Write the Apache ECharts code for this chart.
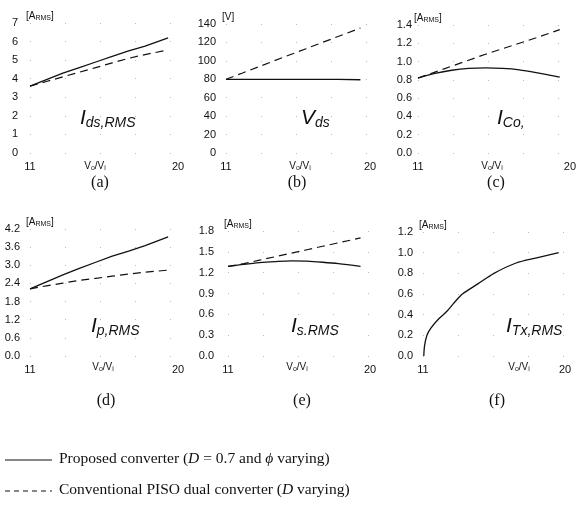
<!DOCTYPE html>
<html><head><meta charset="utf-8">
<script src="https://cdn.jsdelivr.net/npm/echarts@6/dist/echarts.min.js"></script>
<style>html,body{margin:0;padding:0;background:#fff}#c{width:579px;height:507px}</style>
</head><body><div id="c"></div>
<script>
// ---- data ----
const xCommon = [11, 12, 13, 14, 15, 16, 17, 18, 19.4];
const aProposed = [3.6, 3.95, 4.3, 4.6, 4.9, 5.2, 5.5, 5.75, 6.2];
const aConventional = [3.6, 3.85, 4.1, 4.35, 4.6, 4.85, 5.1, 5.3, 5.55];
const bProposed = [80, 80, 80, 80, 80, 80, 80, 80, 79.5];
const bConventional = [80, 86.6, 93.3, 100, 106.6, 113.2, 119.8, 126.4, 135.6];
const cProposed = [0.82, 0.87, 0.905, 0.925, 0.93, 0.925, 0.91, 0.88, 0.83];
const cConventional = [0.82, 0.885, 0.95, 1.015, 1.08, 1.14, 1.2, 1.26, 1.35];
const dProposed = [2.22, 2.45, 2.68, 2.9, 3.1, 3.3, 3.47, 3.65, 3.94];
const dConventional = [2.22, 2.32, 2.41, 2.5, 2.57, 2.64, 2.71, 2.77, 2.84];
const eProposed = [1.29, 1.32, 1.345, 1.36, 1.37, 1.365, 1.35, 1.33, 1.29];
const eConventional = [1.29, 1.33, 1.38, 1.43, 1.48, 1.53, 1.58, 1.63, 1.70];
const fX = [11.05, 11.1, 11.25, 11.5, 12.0, 12.5, 13.0, 13.5, 14.5, 15.5, 16.9, 18.2, 19.6];
const fProposed = [0, 0.1, 0.2, 0.27, 0.36, 0.43, 0.52, 0.6, 0.7, 0.8, 0.9, 0.95, 1.0];

const xTicks = [11, 20];
const yMax = [7, 140, 1.4, 4.2, 1.8, 1.2];
const yStep = [1, 20, 0.2, 0.6, 0.3, 0.2];
const yDecimals = [0, 0, 1, 1, 1, 1];
const units = ['A', 'V', 'A', 'A', 'A', 'A'];
const captions = ['(a)', '(b)', '(c)', '(d)', '(e)', '(f)'];
const bigLabels = [['I','ds,RMS'], ['V','ds'], ['I','Co,'], ['I','p,RMS'], ['I','s.RMS'], ['I','Tx,RMS']];
const legendTexts = ['Proposed converter', 'Conventional PISO dual converter'];

// ---- layout ----
const grids = [
  {left: 30, width: 148, top: 23, height: 130},
  {left: 226, width: 144, top: 24, height: 129},
  {left: 418, width: 152, top: 25, height: 128},
  {left: 30, width: 148, top: 229, height: 127},
  {left: 228, width: 142, top: 231, height: 125},
  {left: 423, width: 142, top: 232, height: 124}
];
const labelMargin = [12, 10, 6, 10, 14, 10];
const xNamePos = [[95, 166], [300, 166], [492, 166], [103, 367], [297, 367], [519, 367]];

const FONT = 'Liberation Sans, Arial, sans-serif';
const SERIF = 'Liberation Serif, Times New Roman, serif';

const option = {
  animation: false,
  backgroundColor: '#fff',
  grid: grids.map(g => Object.assign({containLabel: false}, g)),
  xAxis: grids.map((g, i) => ({
    gridIndex: i, type: 'value', min: xTicks[0], max: xTicks[1], interval: xTicks[1] - xTicks[0],
    axisLine: {show: false}, axisTick: {show: false}, splitLine: {show: false},
    axisLabel: {fontFamily: FONT, fontSize: 11, color: '#111', margin: 8}
  })),
  yAxis: grids.map((g, i) => ({
    gridIndex: i, type: 'value', min: 0, max: yMax[i], interval: yStep[i],
    axisLine: {show: false}, axisTick: {show: false},
    splitLine: {show: true, lineStyle: {color: '#bbb', type: [1, 34], width: 1}},
    axisLabel: {fontFamily: FONT, fontSize: 11, color: '#111', margin: labelMargin[i],
      formatter: v => v.toFixed(yDecimals[i])}
  })),
  series: [],
  graphic: []
};

const lineStyleSolid = {color: '#111', width: 1.3, type: 'solid'};
const lineStyleDash = {color: '#111', width: 1.2, type: [8, 5]};
function addSeries(idx, xs, ys, style, smooth) {
  option.series.push({
    type: 'line', xAxisIndex: idx, yAxisIndex: idx, showSymbol: false, symbol: 'none',
    smooth: smooth ? 0.3 : false,
    data: xs.map((x, k) => [x, ys[k]]), lineStyle: style
  });
}
addSeries(0, xCommon, aProposed, lineStyleSolid, false);
addSeries(0, xCommon, aConventional, lineStyleDash, false);
addSeries(1, xCommon, bProposed, lineStyleSolid, false);
addSeries(1, xCommon, bConventional, lineStyleDash, false);
addSeries(2, xCommon, cProposed, lineStyleSolid, true);
addSeries(2, xCommon, cConventional, lineStyleDash, false);
addSeries(3, xCommon, dProposed, lineStyleSolid, false);
addSeries(3, xCommon, dConventional, lineStyleDash, false);
addSeries(4, xCommon, eProposed, lineStyleSolid, true);
addSeries(4, xCommon, eConventional, lineStyleDash, false);
addSeries(5, fX, fProposed, lineStyleSolid, true);

// x axis names
xNamePos.forEach(p => {
  option.graphic.push({
    type: 'text', x: p[0], y: p[1],
    style: {text: '{n|V}{s|o}{n|/V}{s|i}', align: 'center', verticalAlign: 'middle', fill: '#111',
      rich: {
        n: {fontFamily: FONT, fontSize: 10, fill: '#111'},
        s: {fontFamily: FONT, fontSize: 7, fill: '#111', padding: [5, 0, 0, 0]}
      }}
  });
});

// unit labels above y axes
grids.forEach((g, i) => {
  const txt = units[i] === 'V' ? '[V]' : '[A{s|RMS}]';
  option.graphic.push({
    type: 'text', left: g.left - 4, top: g.top - 12,
    style: {text: txt, fontFamily: FONT, fontSize: 10, fill: '#111',
      rich: {s: {fontFamily: FONT, fontSize: 7, fill: '#111', padding: [4, 0, 0, 0]}}}
  });
});

// big italic labels inside panels
const bigPos = [[80, 108], [301, 108], [497, 108], [91, 316], [291, 316], [506, 316]];
bigLabels.forEach((b, i) => {
  option.graphic.push({
    type: 'text', left: bigPos[i][0], top: bigPos[i][1],
    style: {text: '{m|' + b[0] + '}{s|' + b[1] + '}', fill: '#111',
      rich: {
        m: {fontFamily: FONT, fontStyle: 'italic', fontSize: 21, fill: '#111'},
        s: {fontFamily: FONT, fontStyle: 'italic', fontSize: 14, fill: '#111', padding: [9, 0, 0, 0]}
      }}
  });
});

// captions
const capPos = [[100, 183], [297, 183], [496, 183], [106, 401], [302, 401], [497, 401]];
captions.forEach((c, i) => {
  option.graphic.push({
    type: 'text', x: capPos[i][0], y: capPos[i][1],
    style: {text: c, fontFamily: SERIF, fontSize: 16, fill: '#111', align: 'center', verticalAlign: 'middle'}
  });
});

// legend
option.graphic.push({type: 'line', shape: {x1: 5, y1: 460, x2: 52, y2: 460}, style: {stroke: '#111', lineWidth: 1}});
option.graphic.push({type: 'line', shape: {x1: 5, y1: 491, x2: 52, y2: 491}, style: {stroke: '#111', lineWidth: 1, lineDash: [5, 4]}});
option.graphic.push({
  type: 'text', left: 59, top: 451,
  style: {text: legendTexts[0] + ' ({it|D} = 0.7 and {it|\u03d5} varying)', fontFamily: SERIF, fontSize: 15.5, fill: '#111',
    rich: {it: {fontFamily: SERIF, fontStyle: 'italic', fontSize: 15.5, fill: '#111'}}}
});
option.graphic.push({
  type: 'text', left: 59, top: 482,
  style: {text: legendTexts[1] + ' ({it|D} varying)', fontFamily: SERIF, fontSize: 15.5, fill: '#111',
    rich: {it: {fontFamily: SERIF, fontStyle: 'italic', fontSize: 15.5, fill: '#111'}}}
});

const chart = echarts.init(document.getElementById('c'), null, {renderer: 'canvas'});
chart.setOption(option);
</script></body></html>
